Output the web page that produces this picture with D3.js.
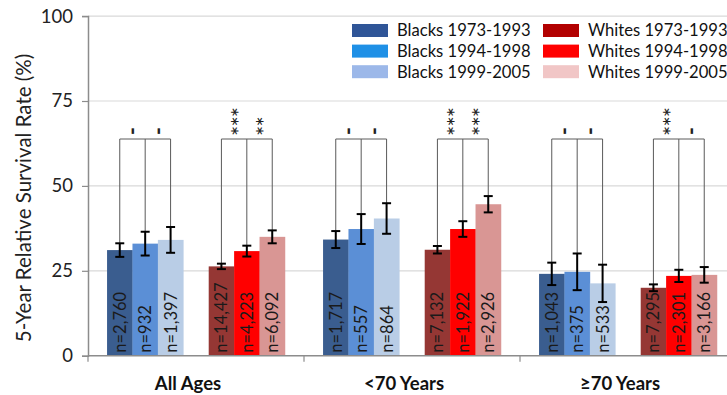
<!DOCTYPE html>
<html><head><meta charset="utf-8">
<script src="https://cdn.jsdelivr.net/npm/d3@7"></script>
<style>body{margin:0;background:#fff}svg{display:block}text{font-family:Lato,"Open Sans",sans-serif}</style>
</head><body><svg id="c" width="727" height="395"></svg>
<script>
const categories = ["All Ages", "<70 Years", "\u226570 Years"];
const seriesNames = ["Blacks 1973-1993","Blacks 1994-1998","Blacks 1999-2005","Whites 1973-1993","Whites 1994-1998","Whites 1999-2005"];
const blacks7393 = [31.1, 34.2, 24.1];
const blacks9498 = [33.0, 37.3, 24.7];
const blacks9905 = [34.1, 40.4, 21.3];
const whites7393 = [26.3, 31.2, 20.0];
const whites9498 = [30.8, 37.3, 23.5];
const whites9905 = [35.0, 44.6, 23.8];
const errB7393 = [2.0, 2.5, 3.3];
const errB9498 = [3.5, 4.4, 5.4];
const errB9905 = [3.8, 4.5, 5.5];
const errW7393 = [0.8, 1.1, 1.0];
const errW9498 = [1.6, 2.3, 1.8];
const errW9905 = [1.9, 2.4, 2.3];
const nB7393 = ["2,760","1,717","1,043"];
const nB9498 = ["932","557","375"];
const nB9905 = ["1,397","864","533"];
const nW7393 = ["14,427","7,132","7,295"];
const nW9498 = ["4,223","1,922","2,301"];
const nW9905 = ["6,092","2,926","3,166"];
const sigBlacks = [["-","-"],["-","-"],["-","-"]];
const sigWhites = [["***","**"],["***","***"],["***","-"]];
const yTicks = [0, 25, 50, 75, 100];
const barColors = ["#3a5d8f","#5b8fd6","#b9cde6","#953734","#ff0000","#d99694"];
const legendColors = ["#2f5597","#1f90e6","#9cb8e9","#b20000","#ff0000","#f1c6c6"];

const values = [blacks7393, blacks9498, blacks9905, whites7393, whites9498, whites9905];
const errs = [errB7393, errB9498, errB9905, errW7393, errW9498, errW9905];
const ns = [nB7393, nB9498, nB9905, nW7393, nW9498, nW9905];
const slotOf = [0,1,2,4,5,6];

const svg = d3.select("#c");
const y = d3.scaleLinear().domain([0,100]).range([355.7, 16.1]);
const x0 = d3.scaleBand().domain(categories).range([88, 736]);
const x1 = d3.scaleBand().domain(d3.range(7)).range([0, x0.bandwidth()]).paddingOuter(0.75);

// gridlines
svg.append("g").selectAll("line").data(yTicks.filter(d=>d>0)).join("line")
  .attr("x1",88).attr("x2",727).attr("y1",d=>y(d)).attr("y2",d=>y(d))
  .attr("stroke","#d9d9d9").attr("stroke-width",1.2);

// y axis
const ya = svg.append("g").attr("transform","translate(88,0)")
  .call(d3.axisLeft(y).tickValues(yTicks).tickSize(6).tickPadding(9));
ya.select(".domain").attr("stroke","#8c8c8c").attr("stroke-width",1.5);
ya.selectAll(".tick line").attr("stroke","#8c8c8c").attr("stroke-width",1.2);
ya.selectAll(".tick text").attr("font-family","Lato").attr("font-size",18.5).attr("fill","#222");

// y title
svg.append("text").attr("transform","translate(31,198) rotate(-90)")
  .attr("text-anchor","middle").attr("font-size",20.5).attr("fill","#222")
  .text("5-Year Relative Survival Rate (%)");

// bars
const bars = [];
categories.forEach((c,ci)=>{
  values.forEach((arr,si)=>{
    bars.push({c, ci, si, v: arr[ci], e: errs[si][ci], n: ns[si][ci], x: x0(c)+x1(slotOf[si]), w: x1.bandwidth()});
  });
});
svg.append("g").selectAll("rect").data(bars).join("rect")
  .attr("x",d=>d.x).attr("width",d=>d.w+0.3)
  .attr("y",d=>y(d.v)).attr("height",d=>y(0)-y(d.v))
  .attr("fill",d=>barColors[d.si]);

// x axis
const xa = svg.append("g").attr("transform",`translate(0,${y(0)})`);
xa.append("line").attr("x1",88).attr("x2",727).attr("stroke","#8c8c8c").attr("stroke-width",1.5);
xa.selectAll(".tk").data(categories).join("line").attr("class","tk")
  .attr("x1",d=>x0(d)).attr("x2",d=>x0(d)).attr("y1",0).attr("y2",6)
  .attr("stroke","#8c8c8c").attr("stroke-width",1.2);
xa.selectAll(".lbl").data(categories).join("text").attr("class","lbl")
  .attr("x",d=>x0(d)+x0.bandwidth()/2 - 8).attr("y",34)
  .attr("text-anchor","middle").attr("font-weight","bold").attr("font-size",18.5).attr("fill","#111")
  .text(d=>d);

// n labels
svg.append("g").selectAll("text").data(bars).join("text")
  .attr("transform",d=>`translate(${d.x+d.w/2},${y(0)-3}) rotate(-90)`)
  .attr("dy","0.36em").attr("font-size",16.5).attr("fill","#1a1a1a")
  .text(d=>"n="+d.n);

// brackets
const bracketY = 139;
const groups = [];
categories.forEach((c,ci)=>{
  [[0,1,2,sigBlacks],[3,4,5,sigWhites]].forEach(g=>{
    const pts = g.slice(0,3).map(si=>{const b = bars.find(b=>b.ci===ci&&b.si===si); return {cx:b.x+b.w/2, top:y(b.v+b.e)};});
    groups.push({pts, sig:g[3][ci]});
  });
});
const bg = svg.append("g").attr("stroke","#5a5a5a").attr("stroke-width",1).attr("fill","none");
groups.forEach(g=>{
  bg.append("line").attr("x1",g.pts[0].cx).attr("x2",g.pts[2].cx).attr("y1",bracketY).attr("y2",bracketY);
  g.pts.forEach(p=>bg.append("line").attr("x1",p.cx).attr("x2",p.cx).attr("y1",bracketY).attr("y2",p.top));
  [0,1].forEach(k=>{
    const mx = (g.pts[k].cx+g.pts[k+1].cx)/2;
    const isDash = g.sig[k]==="-";
    svg.append("text").attr("transform",`translate(${mx},${bracketY-(isDash?4:3)}) rotate(-90)`)
      .attr("dy", isDash ? "0.32em" : "0.58em")
      .attr("font-size", isDash ? 21 : 24).attr("font-weight", isDash?"900":"normal").attr("fill","#222")
      .attr("font-family", isDash ? "Lato" : "Liberation Sans")
      .attr("letter-spacing", isDash ? 0 : -0.8)
      .text(g.sig[k]);
  });
});

// error bars
const eg = svg.append("g").attr("stroke","#000").attr("stroke-width",2);
bars.forEach(b=>{
  const cx = b.x+b.w/2;
  eg.append("line").attr("x1",cx).attr("x2",cx).attr("y1",y(b.v+b.e)).attr("y2",y(b.v-b.e));
  eg.append("line").attr("x1",cx-4.5).attr("x2",cx+4.5).attr("y1",y(b.v+b.e)).attr("y2",y(b.v+b.e));
  eg.append("line").attr("x1",cx-4.5).attr("x2",cx+4.5).attr("y1",y(b.v-b.e)).attr("y2",y(b.v-b.e));
});

// legend
const lg = svg.append("g");
seriesNames.forEach((s,i)=>{
  const col = Math.floor(i/3), row = i%3;
  const lx = col===0 ? 352 : 543, ly = 30.5 + row*20.6;
  lg.append("rect").attr("x",lx).attr("y",ly-6.5).attr("width",36).attr("height",13).attr("fill",legendColors[i]);
  lg.append("text").attr("x",lx+45).attr("y",ly).attr("dy","0.36em").attr("font-size",16.6).attr("fill","#111").text(s);
});
</script></body></html>
